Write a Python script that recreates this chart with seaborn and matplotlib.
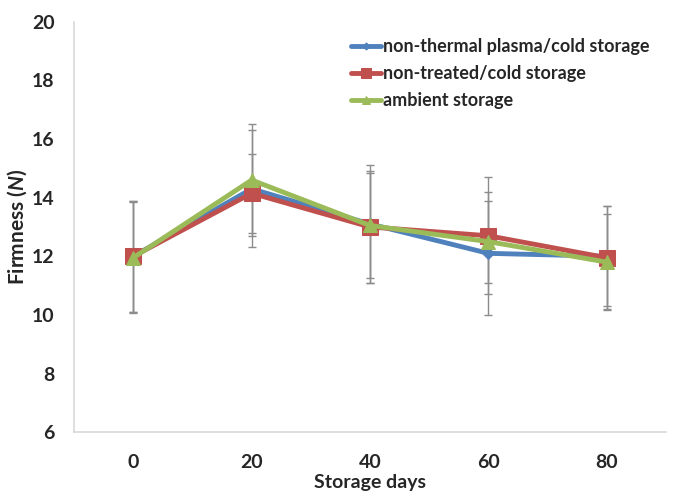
import numpy as np
import pandas as pd
import seaborn as sns
import matplotlib.pyplot as plt

# values
days = [0, 20, 40, 60, 80]
series = ['non-thermal plasma/cold storage', 'non-treated/cold storage', 'ambient storage']
plasma_cold = [12.0, 14.3, 13.1, 12.1, 12.0]
untreated_cold = [12.0, 14.15, 13.0, 12.7, 11.95]
ambient = [11.95, 14.6, 13.05, 12.5, 11.8]
plasma_cold_sd = [1.9, 2.0, 2.0, 2.1, 1.7]
untreated_cold_sd = [1.9, 1.35, 1.9, 2.0, 1.75]
ambient_sd = [1.9, 1.9, 1.8, 1.4, 1.65]

df = pd.DataFrame({
    'Storage days': days * 3,
    'Firmness': plasma_cold + untreated_cold + ambient,
    'sd': plasma_cold_sd + untreated_cold_sd + ambient_sd,
    'Treatment': np.repeat(series, len(days)),
})

colors = ['#4f81bd', '#c0504d', '#9bbb59']
markers = {series[0]: 'D', series[1]: 's', series[2]: '^'}
sizes = {series[0]: 6, series[1]: 11, series[2]: 10}

sns.set_style('white')
plt.rcParams['font.family'] = ['Lato', 'DejaVu Sans']
plt.rcParams['font.weight'] = 'bold'
plt.rcParams['mathtext.fontset'] = 'custom'
plt.rcParams['mathtext.it'] = 'Lato:italic:bold'

fig = plt.figure(figsize=(6.74, 4.95), dpi=100)
ax = fig.add_axes([0.110, 0.127, 0.878, 0.829])

# error bars behind the lines
for i, name in enumerate(series):
    d = df[df['Treatment'] == name]
    ax.errorbar(d['Storage days'], d['Firmness'], yerr=d['sd'], fmt='none',
                ecolor='#8c8c8c', elinewidth=1, capsize=3, capthick=1, zorder=1)

for i, name in enumerate(series):
    d = df[df['Treatment'] == name]
    sns.lineplot(data=d, x='Storage days', y='Firmness', color=colors[i],
                 marker=markers[name], markersize=sizes[name], markeredgecolor=colors[i],
                 linewidth=3.5, label=name, ax=ax, zorder=2 + i)

ax.set_xlim(-10, 90)
ax.set_ylim(6, 20)
ax.set_xticks(days)
ax.set_xticks([-10, 10, 30, 50, 70, 90], minor=True)
ax.set_yticks(np.arange(6, 21, 2))
ax.tick_params(axis='x', which='major', length=0, labelsize=14, pad=16)
ax.tick_params(axis='x', which='minor', direction='in', length=4, color='#bfbfbf')
ax.tick_params(axis='y', direction='in', length=4, color='#bfbfbf', labelsize=14, pad=14)
for lab in ax.get_xticklabels() + ax.get_yticklabels():
    lab.set_fontweight('bold')

for s in ['top', 'right']:
    ax.spines[s].set_visible(False)
for s in ['left', 'bottom']:
    ax.spines[s].set_color('#d9d9d9')
    ax.spines[s].set_linewidth(1.2)

ax.set_xlabel('Storage days', fontsize=14, fontweight='bold')
ax.xaxis.set_label_coords(0.5, -0.102)
ax.set_ylabel('Firmness ($\\mathit{N}$)', fontsize=15, fontweight='bold', labelpad=2)

leg = ax.legend(loc='upper right', bbox_to_anchor=(1.0, 1.0), frameon=False,
                fontsize=13, handlelength=1.7, handletextpad=0.1, labelspacing=0.55,
                markerscale=0.6)
for t in leg.get_texts():
    t.set_fontweight('bold')

fig.savefig('out.png', dpi=100)
